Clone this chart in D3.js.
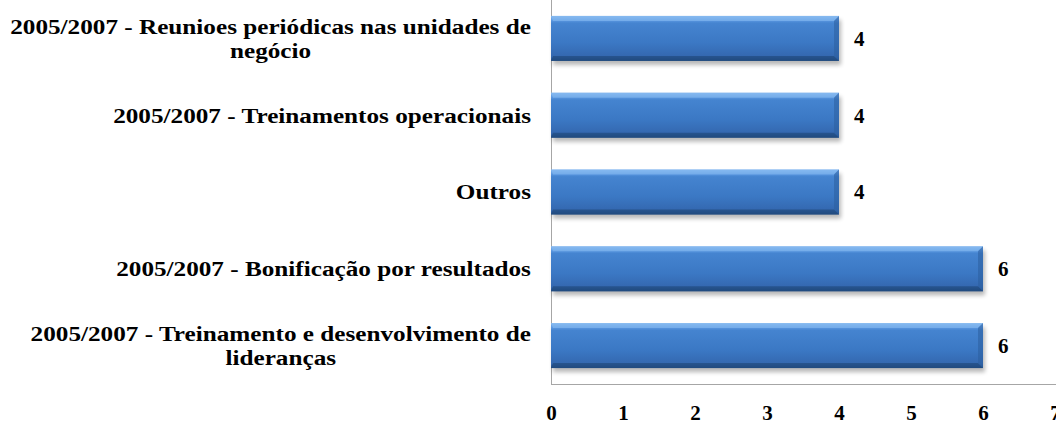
<!DOCTYPE html>
<html>
<head>
<meta charset="utf-8">
<script src="https://cdn.jsdelivr.net/npm/d3@7"></script>
<style>
  html, body { margin: 0; padding: 0; background: #ffffff; }
  svg { display: block; }
</style>
</head>
<body>
<svg id="chart" width="1056" height="424"></svg>
<script>
const categories = [
  "2005/2007 - Reunioes periódicas nas unidades de negócio",
  "2005/2007 - Treinamentos operacionais",
  "Outros",
  "2005/2007 - Bonificação por resultados",
  "2005/2007 - Treinamento e desenvolvimento de lideranças"
];
const values = [4, 4, 4, 6, 6];
const tickValues = [0, 1, 2, 3, 4, 5, 6, 7];

const W = 1056, H = 424;
const FONT = '"Liberation Serif", "Times New Roman", serif';
const plot = { left: 551, right: 1055, top: 0, bottom: 384 };
const svg = d3.select("#chart");

function styleText(sel, size, ls) {
  return sel.style("font-family", FONT).style("font-weight", "bold")
    .style("font-size", size + "px").style("letter-spacing", (ls || 0) + "px").attr("fill", "#000");
}

const defs = svg.append("defs");
const grad = defs.append("linearGradient").attr("id", "barGrad")
  .attr("x1", 0).attr("y1", 0).attr("x2", 0).attr("y2", 1);
[[0, "#7fb3ee"], [0.1, "#5a97e0"], [0.16, "#4584d0"], [0.6, "#3b78c4"], [0.9, "#3468b0"], [1, "#24508a"]]
  .forEach(([o, c]) => grad.append("stop").attr("offset", o).attr("stop-color", c));
const blur = defs.append("filter").attr("id", "shadow").attr("x", "-5%").attr("y", "-20%").attr("width", "110%").attr("height", "160%");
blur.append("feGaussianBlur").attr("stdDeviation", 2);

const x = d3.scaleLinear().domain([0, 7]).range([plot.left, plot.right]);
const y = d3.scaleBand().domain(categories).range([plot.top, plot.bottom])
  .paddingInner(0.414).paddingOuter(0.207);

// axes lines
svg.append("line").attr("x1", plot.left + 0.5).attr("x2", plot.left + 0.5).attr("y1", plot.top).attr("y2", plot.bottom)
  .attr("stroke", "#a6a6a6").attr("stroke-width", 1);
svg.append("line").attr("x1", plot.left).attr("x2", W).attr("y1", plot.bottom + 0.5).attr("y2", plot.bottom + 0.5)
  .attr("stroke", "#a6a6a6").attr("stroke-width", 1);

// x tick labels via axis
const xAxis = d3.axisBottom(x).tickValues(tickValues).tickSize(0).tickPadding(0).tickFormat(d3.format("d"));
const gx = svg.append("g").attr("transform", `translate(0,${plot.bottom})`).call(xAxis);
gx.select(".domain").remove();
styleText(gx.selectAll("text").attr("dy", null).attr("y", 36), 21);

// bars
const bars = svg.append("g").selectAll("g").data(categories).join("g");
const bh = y.bandwidth();
bars.append("rect")
  .attr("x", x(0) + 2).attr("y", (d) => y(d) + 4)
  .attr("width", (d, i) => x(values[i]) - x(0)).attr("height", bh)
  .attr("fill", "#000").attr("opacity", 0.28).attr("filter", "url(#shadow)");
bars.append("rect")
  .attr("x", x(0)).attr("y", (d) => y(d))
  .attr("width", (d, i) => x(values[i]) - x(0)).attr("height", bh)
  .attr("fill", "url(#barGrad)");
const bev = 5;
bars.append("path").attr("fill", "#8cc0f3").attr("opacity", 0.55)
  .attr("d", (d, i) => {
    const x0 = x(0), x1 = x(values[i]), t = y(d);
    return `M${x0},${t}L${x1},${t}L${x1 - bev},${t + bev}L${x0 + 2},${t + bev}Z`;
  });
bars.append("path").attr("fill", "#1e4677").attr("opacity", 0.6)
  .attr("d", (d, i) => {
    const x0 = x(0), x1 = x(values[i]), b = y(d) + bh;
    return `M${x0},${b}L${x1},${b}L${x1 - bev},${b - bev}L${x0 + 2},${b - bev}Z`;
  });
bars.append("path").attr("fill", "#2b5e9e").attr("opacity", 0.55)
  .attr("d", (d, i) => {
    const x1 = x(values[i]), t = y(d), b = t + bh;
    return `M${x1},${t}L${x1},${b}L${x1 - bev},${b - bev}L${x1 - bev},${t + bev}Z`;
  });

// value labels
styleText(svg.append("g").selectAll("text").data(categories).join("text")
  .attr("x", (d, i) => x(values[i]) + 15)
  .attr("y", (d) => y(d) + bh / 2)
  .attr("dy", "0.35em")
  .text((d, i) => values[i]), 21);

// category labels with wrapping (text drawn horizontally widened like the source)
const SX = 1.2, labelRight = 531, maxW = 528 / SX, lineH = 24, FS = 21;
const lg = svg.append("g");
categories.forEach((c) => {
  const probe = styleText(lg.append("text"), FS, 0);
  const words = c.split(" ");
  const lines = [];
  let cur = [];
  words.forEach((w) => {
    const test = cur.concat([w]).join(" ");
    probe.text(test);
    if (probe.node().getComputedTextLength() > maxW && cur.length) {
      lines.push(cur.join(" "));
      cur = [w];
    } else cur.push(w);
  });
  lines.push(cur.join(" "));
  let wmax = 0;
  lines.forEach((l) => { probe.text(l); wmax = Math.max(wmax, probe.node().getComputedTextLength()); });
  probe.remove();
  const cy = y(c) + bh / 2;
  const g = lg.append("g").attr("transform", `translate(${labelRight},0) scale(${SX},1)`);
  const t = styleText(g.append("text"), FS, 0).attr("text-anchor", "middle");
  lines.forEach((l, k) => {
    t.append("tspan").attr("x", -wmax / 2)
      .attr("y", cy + (k - (lines.length - 1) / 2) * lineH)
      .attr("dy", "0.35em").text(l);
  });
});
</script>
</body>
</html>
